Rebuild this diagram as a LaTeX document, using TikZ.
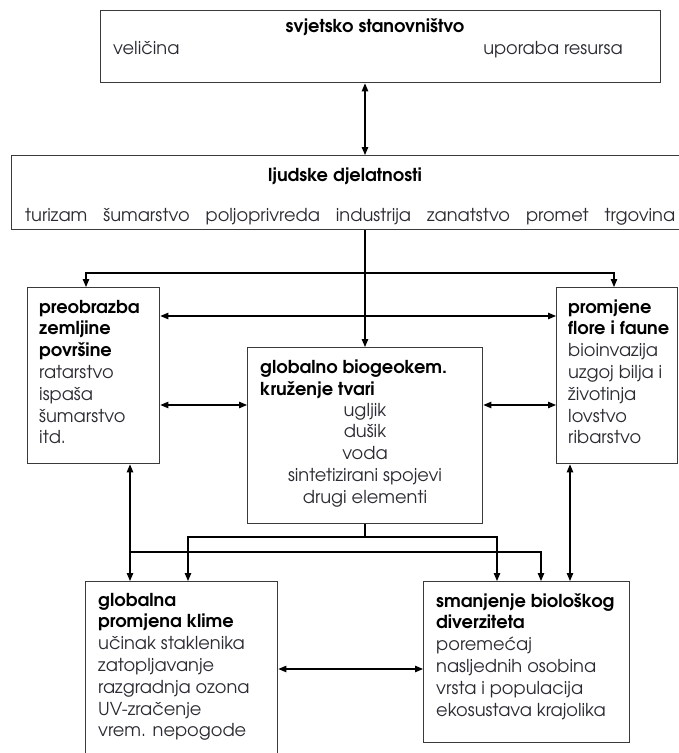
\documentclass[tikz,border=0pt]{standalone}
\usepackage{fontspec}
\setmainfont{TeX Gyre Adventor}
\usetikzlibrary{arrows.meta,calc}
\definecolor{txt}{HTML}{2B2B33}
\definecolor{edge}{HTML}{3A3A3A}
\newcommand\bhead[1]{\textbf{\color{black}#1}}
\begin{document}
\begin{tikzpicture}[x=1pt,y=-1pt,
  box/.style={draw=edge, line width=1.4pt, rectangle, inner sep=0pt, outer sep=0.7pt, anchor=north west, fill=none},
  lbl/.style={inner sep=0pt, anchor=base west, align=left, font=\fontsize{17.8}{21.8}\selectfont, text=txt},
  ctr/.style={lbl, anchor=base, align=center},
  tip/.tip={Triangle[length=8pt,width=6.5pt]},
  conn/.style={line width=1.1pt, draw=black, -tip},
  both/.style={line width=1.1pt, draw=black, tip-tip}]
\useasboundingbox (0,0) rectangle (678,753);

% boxes
\node[box, minimum width=560pt, minimum height=72pt] (T) at (100,10) {};
\node[box, minimum width=672pt, minimum height=74pt] (M) at (11,155) {};
\node[box, minimum width=132pt, minimum height=176pt] (L) at (27,287) {};
\node[box, minimum width=121pt, minimum height=176pt] (R) at (556,287) {};
\node[box, minimum width=235pt, minimum height=176pt] (G) at (247,347) {};
\node[box, minimum width=192pt, minimum height=185pt] (BL) at (85,581) {};
\node[box, minimum width=206pt, minimum height=161pt] (BR) at (423,581) {};

% texts (multi-line nodes are placed by the baseline of their last line)
\node[ctr] (t1) at (375,32) {\bhead{svjetsko stanovništvo}};
\node[lbl] (t2) at (113,54) {veličina};
\node[lbl, anchor=base east] (t3) at (623,54) {uporaba resursa};
\node[ctr] (m1) at (345,181) {\bhead{ljudske djelatnosti}};
\node[lbl] (m2) at (25,221) {\hbox to 650pt{turizam\hfill šumarstvo\hfill poljoprivreda\hfill industrija\hfill zanatstvo\hfill promet\hfill trgovina}};
\node[lbl] (l1) at (39,443.8) {\bhead{preobrazba}\\\bhead{zemljine}\\\bhead{površine}\\ratarstvo\\ispaša\\šumarstvo\\itd.};
\node[lbl] (r1) at (568,443.8) {\bhead{promjene}\\\bhead{flore i faune}\\bioinvazija\\uzgoj bilja i\\životinja\\lovstvo\\ribarstvo};
\node[lbl] (g1) at (260,395.3) {\bhead{globalno biogeokem.}\\\bhead{kruženje tvari}};
\node[ctr] (g2) at (365,503.2) {ugljik\\dušik\\voda\\sintetizirani spojevi\\drugi elementi};
\node[lbl] (bl1) at (98,736.8) {\bhead{globalna}\\\bhead{promjena klime}\\učinak staklenika\\zatopljavanje\\razgradnja ozona\\UV-zračenje\\vrem. nepogode};
\node[lbl] (br1) at (436,716) {\bhead{smanjenje biološkog}\\\bhead{diverziteta}\\poremećaj\\nasljednih osobina\\vrsta i populacija\\ekosustava krajolika};

% columns and rows
\coordinate (cA) at (86,0);
\coordinate (cB) at (130,0);
\coordinate (cC) at (188,0);
\coordinate (cD) at (365,0);
\coordinate (cE) at (497,0);
\coordinate (cF) at (541,0);
\coordinate (cG) at (570,0);
\coordinate (cH) at (614,0);
\coordinate (r1) at (0,273);
\coordinate (r2) at (0,316);
\coordinate (r3) at (0,405);
\coordinate (r4) at (0,537);
\coordinate (r5) at (0,552);
\coordinate (r6) at (0,669);
\coordinate (j1) at (cD |- r1);
\coordinate (j2) at (cD |- r4);
\coordinate (j3) at (cB |- r5);

% connectors
\draw[both] (T.south -| cD) -- (M.north -| cD);
\draw[conn] (M.south -| cD) -- (G.north -| cD);
\draw[conn] (j1) -| (L.north -| cA);
\draw[conn] (j1) -| (R.north -| cH);
\draw[both] (L.east |- r2) -- (R.west |- r2);
\draw[both] (L.east |- r3) -- (G.west |- r3);
\draw[both] (G.east |- r3) -- (R.west |- r3);
\draw[line width=1.1pt] (G.south -| cD) -- (j2);
\draw[conn] (j2) -| (BL.north -| cC);
\draw[conn] (j2) -| (BR.north -| cE);
\draw[both] (L.south -| cB) -- (BL.north -| cB);
\draw[conn] (j3) -| (BR.north -| cF);
\draw[both] (R.south -| cG) -- (BR.north -| cG);
\draw[both] (BL.east |- r6) -- (BR.west |- r6);
\end{tikzpicture}
\end{document}
